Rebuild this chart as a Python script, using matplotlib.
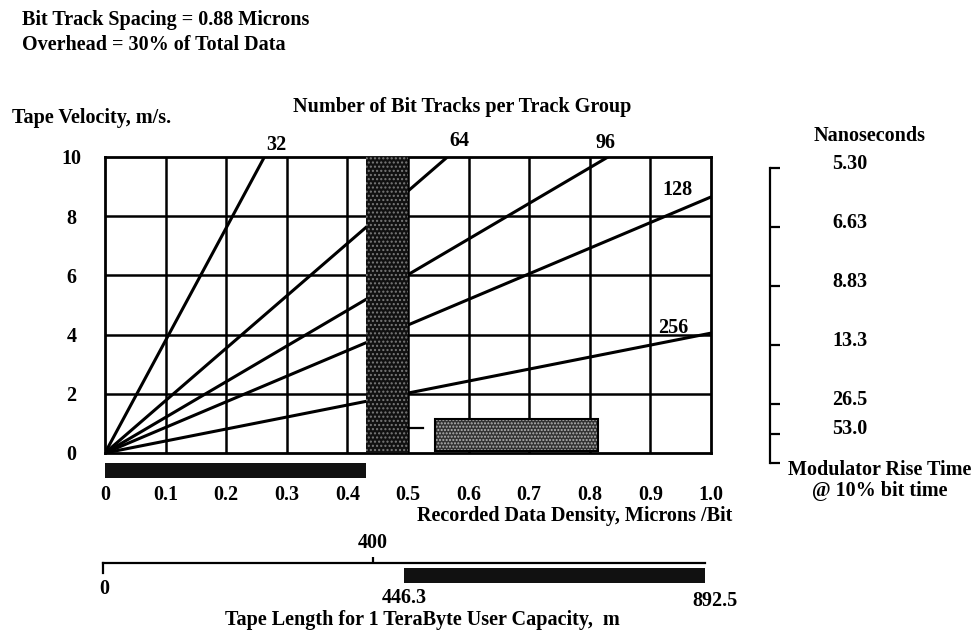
import matplotlib
matplotlib.use('Agg')
import matplotlib.pyplot as plt
from matplotlib.patches import Rectangle

plt.rcParams['font.family'] = ['Liberation Serif', 'DejaVu Serif']
plt.rcParams['font.weight'] = 'bold'
plt.rcParams['font.size'] = 14.5
plt.rcParams['hatch.linewidth'] = 1.0

# grid / axis values
density_ticks = [0, 0.1, 0.2, 0.3, 0.4, 0.5, 0.6, 0.7, 0.8, 0.9, 1.0]
density_labels = ['0', '0.1', '0.2', '0.3', '0.4', '0.5', '0.6', '0.7', '0.8', '0.9', '1.0']
velocity_ticks = [0, 2, 4, 6, 8, 10]

# lines of constant track count (end points)
tracks = ['32', '64', '96', '128', '256']
end_density = [0.263, 0.565, 0.83, 1.0, 1.0]
end_velocity = [10, 10, 10, 8.65, 4.05]

# shaded regions
band_density = [0.43, 0.50]
box_density = [0.545, 0.813]
box_velocity = [0.07, 1.15]
leader_velocity = 0.83

# right scale: modulator rise time, ns (53.0 ns at 1 m/s)
rise_ns = [5.30, 6.63, 8.83, 13.3, 26.5, 53.0]
rise_labels = ['5.30', '6.63', '8.83', '13.3', '26.5', '53.0']

# tape length scale
tape_max = 892.5
tape_half = 446.3
tape_tick = 400

W, H = 977, 637
fig = plt.figure(figsize=(W / 100, H / 100), dpi=100)


def box(l, t, r, b):
    # pixel box -> figure fraction
    return [l / W, 1 - b / H, (r - l) / W, (b - t) / H]


ax = fig.add_axes(box(105, 157, 711, 453))
ax.set_xlim(0, 1)
ax.set_ylim(0, 10)
for s in ax.spines.values():
    s.set_linewidth(2.0)
for x in density_ticks[1:-1]:
    ax.axvline(x, color='black', lw=1.8, zorder=1)
for y in velocity_ticks[1:-1]:
    ax.axhline(y, color='black', lw=1.8, zorder=1)

# lines from the origin
for n, xe, ye in zip(tracks, end_density, end_velocity):
    ax.plot([0, xe], [0, ye], color='black', lw=2.2, zorder=2)

offsets = {'32': (8.6, 8.6), '64': (8.6, 11.5), '96': (-2, 10),
           '128': (-24.5, 5), '256': (-27, 3.6)}
for n, xe, ye in zip(tracks, end_density, end_velocity):
    ax.annotate(n, (xe, ye), xytext=offsets[n], textcoords='offset points',
                ha='center', va='center', annotation_clip=False)

# dark stippled band
ax.add_patch(Rectangle((band_density[0], 0), band_density[1] - band_density[0], 10,
                       facecolor='#111111', edgecolor='#7a7a7a', hatch='....',
                       lw=0, zorder=3))

# grey stippled box with leader
ax.plot([band_density[1], band_density[1] + 0.025], [leader_velocity, leader_velocity],
        color='black', lw=1.6, zorder=3)
ax.add_patch(Rectangle((box_density[0], box_velocity[0]),
                       box_density[1] - box_density[0], box_velocity[1] - box_velocity[0],
                       facecolor='#333333', edgecolor='#b5b5b5', hatch='.....',
                       lw=0, zorder=3))
ax.add_patch(Rectangle((box_density[0], box_velocity[0]),
                       box_density[1] - box_density[0], box_velocity[1] - box_velocity[0],
                       facecolor='none', edgecolor='black', lw=1.5, zorder=4))

# black bar below the axis up to the band
ax.add_patch(Rectangle((0, -0.84), band_density[0], 0.5, facecolor='#111111',
                       edgecolor='none', clip_on=False))

ax.set_xticks(density_ticks)
ax.set_xticklabels(density_labels)
ax.set_yticks(velocity_ticks)
ax.set_yticklabels([str(v) for v in velocity_ticks])
ax.tick_params(length=0)
ax.tick_params(axis='x', pad=23)
ax.tick_params(axis='y', pad=24)
for lab in ax.get_yticklabels():
    lab.set_ha('center')

# texts
fig.text(22 / W, 1 - 20 / H, 'Bit Track Spacing = 0.88 Microns', va='center')
fig.text(22 / W, 1 - 45 / H, 'Overhead = 30% of Total Data', va='center')
fig.text(12 / W, 1 - 118 / H, 'Tape Velocity, m/s.', va='center')
fig.text(462 / W, 1 - 107 / H, 'Number of Bit Tracks per Track Group',
         ha='center', va='center')
fig.text(575 / W, 1 - 516 / H, 'Recorded Data Density, Microns /Bit',
         ha='center', va='center')

# right-hand rise time scale
axr = fig.add_axes(box(770, 168, 930, 463))
axr.set_xlim(0, 1)
axr.set_ylim(0, 10)
for k in ['top', 'right', 'bottom']:
    axr.spines[k].set_visible(False)
axr.spines['left'].set_linewidth(1.6)
axr.patch.set_visible(False)
rise_v = [rise_ns[-1] / t for t in rise_ns]
axr.set_yticks(rise_v + [0])
axr.set_yticklabels([''] * (len(rise_v) + 1))
axr.set_xticks([])
axr.tick_params(axis='y', direction='in', length=7, width=1.6)
for v, lab in zip(rise_v, rise_labels):
    axr.annotate(lab, (0.5, v), xytext=(0, 3), textcoords='offset points',
                 ha='center', va='center')
fig.text(870 / W, 1 - 136 / H, 'Nanoseconds', ha='center', va='center')
fig.text(880 / W, 1 - 470 / H, 'Modulator Rise Time', ha='center', va='center')
fig.text(880 / W, 1 - 491 / H, '@ 10% bit time', ha='center', va='center')

# tape length scale
axt = fig.add_axes(box(103, 563, 705, 583))
axt.set_xlim(0, tape_max)
axt.set_ylim(0, 1)
axt.patch.set_visible(False)
for k in ['left', 'right', 'bottom']:
    axt.spines[k].set_visible(False)
axt.spines['top'].set_linewidth(1.6)
axt.plot([0, 0], [1, 0.5], color='black', lw=1.6, clip_on=False)
axt.add_patch(Rectangle((tape_half, 0), tape_max - tape_half, 0.75,
                        facecolor='#111111', edgecolor='none', clip_on=False))
axt.xaxis.set_ticks_position('top')
axt.set_xticks([tape_tick])
axt.set_xticklabels([str(tape_tick)])
axt.tick_params(axis='x', direction='out', length=4, width=1.6, pad=3)
axt.set_yticks([])
axt.annotate('0', (0, 0), xytext=(1, -4), textcoords='offset points',
             ha='center', va='center', annotation_clip=False)
axt.annotate(f'{tape_half}', (tape_half, 0), xytext=(0, -11), textcoords='offset points',
             ha='center', va='center', annotation_clip=False)
axt.annotate(f'{tape_max}', (tape_max, 0), xytext=(7, -13), textcoords='offset points',
             ha='center', va='center', annotation_clip=False)
fig.text(422 / W, 1 - 620 / H, 'Tape Length for 1 TeraByte User Capacity,  m',
         ha='center', va='center')

fig.savefig('out.png', dpi=100)
